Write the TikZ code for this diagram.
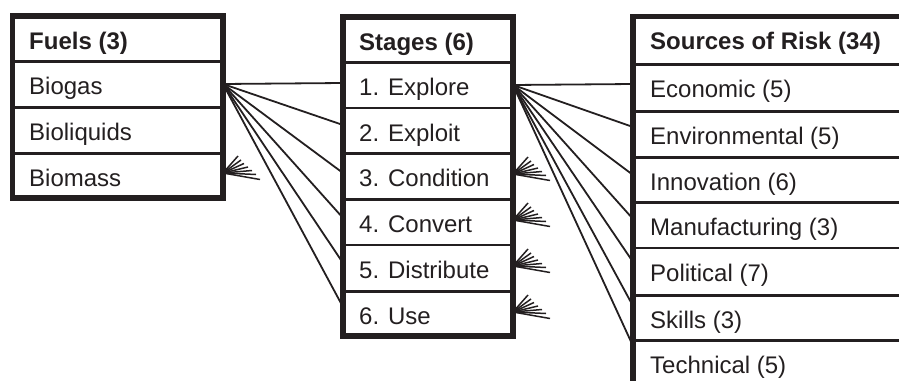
\documentclass[tikz,border=0pt]{standalone}
\usepackage{fontspec}
\setmainfont{Liberation Sans}
\definecolor{ink}{HTML}{231F20}

\tikzset{
  frame/.style={draw=ink, line width=5.5pt, line join=miter},
  divider/.style={draw=ink, line width=3pt},
  thindiv/.style={draw=ink, line width=1.8pt},
  link/.style={draw=ink, line width=1.8pt},
  toe/.style={draw=ink, line width=1.5pt},
  cell/.style={anchor=base west, inner sep=0pt, text=ink, font=\fontsize{24}{28}\selectfont},
  head/.style={cell, font=\bfseries\fontsize{24}{28}\selectfont},
  crowfoot/.pic={
    \foreach \dx/\dy in {15/-17,18/-13,21/-9.5,25/-6,29/-2.5,33/1.5,37/6.5}
      \draw[toe] (0,0) -- (\dx,\dy);
  }
}

\begin{document}
\begin{tikzpicture}[x=1pt,y=-1pt]
\useasboundingbox (0,0) rectangle (899,380);
\clip (0,0) rectangle (899,380);

% ---------- connection points ----------
\coordinate (biogas-out) at (223,84);
\foreach \i/\y in {1/83,2/125,3/173,4/218,5/263,6/307}
  \coordinate (stage-in-\i) at (343,\y);
\coordinate (explore-out) at (513,85);
\foreach \i/\y in {1/84,2/127,3/175,4/219,5/262,6/306,7/346}
  \coordinate (risk-in-\i) at (633,\y);

% ---------- connectors ----------
\foreach \i in {1,...,6}
  \draw[link] (biogas-out) -- (stage-in-\i);
\foreach \i in {1,...,7}
  \draw[link] (explore-out) -- (risk-in-\i);

% many-ends
\coordinate (biomass-end) at (223,173);
\pic at (biomass-end) {crowfoot};
\foreach \i/\y in {3/174,4/220,5/266,6/312}{
  \coordinate (stage-end-\i) at (513,\y);
  \pic at (stage-end-\i) {crowfoot};
}

% ---------- Fuels ----------
\foreach \y in {61,107,153}
  \draw[divider] (12.5,\y) -- (223,\y);
\draw[frame] (12.5,16) rectangle (223,198);
\node[head] (fuels-head) at (29,49.5) {Fuels (3)};
\foreach \i/\y/\t in {1/94/Biogas,2/140/Bioliquids,3/186/Biomass}
  \node[cell] (fuel-\i) at (29,\y) {\t};

% ---------- Stages ----------
\foreach \y in {62,153.5,199,291}
  \draw[divider] (343,\y) -- (513,\y);
\foreach \y in {108,245}
  \draw[thindiv] (343,\y) -- (513,\y);
\draw[frame] (343,17) rectangle (513,336);
\node[head] (stages-head) at (359,50) {Stages (6)};
\foreach \i/\y/\t in {1/95/Explore,2/141/Exploit,3/186.5/Condition,4/232/Convert,5/278/Distribute,6/324/Use}
  \node[cell] (stage-\i) at (359,\y) {\i. \t};

% ---------- Sources of Risk ----------
\foreach \y in {64,111.5,157,202,295,340}
  \draw[divider] (633,\y) -- (905,\y);
\draw[thindiv] (633,248) -- (905,248);
\draw[frame] (633,400) -- (633,16.5) -- (905,16.5);
\node[head] (risk-head) at (650,49) {Sources of Risk (34)};
\foreach \i/\y/\t in {1/97/Economic (5),2/144/Environmental (5),3/190/Innovation (6),4/235/Manufacturing (3),5/281/Political (7),6/328/Skills (3),7/373/Technical (5)}
  \node[cell] (risk-\i) at (650,\y) {\t};
\end{tikzpicture}
\end{document}
